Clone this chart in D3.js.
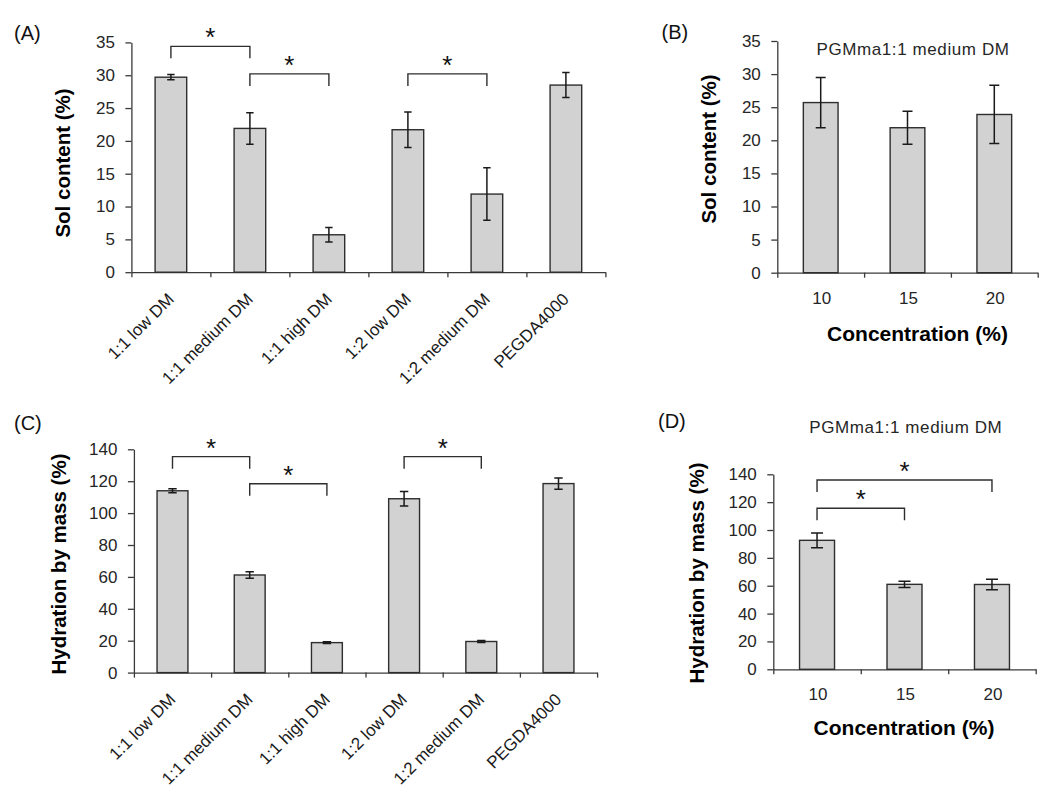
<!DOCTYPE html>
<html><head><meta charset="utf-8">
<script src="https://cdn.jsdelivr.net/npm/d3@7"></script>
<style>body{margin:0;background:#fff} svg{display:block}</style>
</head><body>
<svg id="chart" width="1050" height="807"></svg>
<script>
// ---- data ----
const categoriesAC = ["1:1 low DM","1:1 medium DM","1:1 high DM","1:2 low DM","1:2 medium DM","PEGDA4000"];
const concentrations = ["10","15","20"];
const solContentA = [29.7, 21.9, 5.7, 21.7, 11.9, 28.5];
const solContentAErr = [0.4, 2.4, 1.1, 2.7, 4.0, 1.9];
const solContentB = [25.7, 21.9, 23.9];
const solContentBErr = [3.8, 2.5, 4.4];
const hydrationC = [114, 61.2, 18.8, 109, 19.5, 118.5];
const hydrationCErr = [1.3, 2.0, 0.5, 4.6, 0.7, 3.5];
const hydrationD = [92.6, 61, 60.9];
const hydrationDErr = [5.3, 2.2, 3.7];
const solTicks = [0, 5, 10, 15, 20, 25, 30, 35];
const hydTicks = [0, 20, 40, 60, 80, 100, 120, 140];
// significance brackets: [from index, to index, level]
const sigA = [[0, 1, 34.4], [1, 2, 30.2], [3, 4, 30.2]];
const sigC = [[0, 1, 135.4], [1, 2, 118.4], [3, 4, 135.4]];
const sigD = [[0, 1, 115.6], [0, 2, 135.9]];
const panelLabels = ["(A)", "(B)", "(C)", "(D)"];
const subtitle = "PGMma1:1 medium DM";
const yTitleSol = "Sol content (%)";
const yTitleHyd = "Hydration by mass (%)";
const xTitleConc = "Concentration (%)";

const svg = d3.select("#chart");
const FONT = "'Liberation Sans', Arial, sans-serif";
const AXIS = "#3a3a3a";

function panel(cfg) {
  const g = svg.append("g");
  const y = d3.scaleLinear().domain([0, cfg.yMax]).range([cfg.bottom, cfg.top]);
  const x = d3.scaleBand().domain(cfg.cats).range([cfg.left, cfg.right]).paddingInner(0.6).paddingOuter(0.3);
  const xb = d3.scaleLinear().domain([0, cfg.cats.length]).range([cfg.left, cfg.right]);

  // y axis
  const ya = g.append("g").attr("transform", `translate(${cfg.left},0)`)
    .call(d3.axisLeft(y).tickValues(cfg.ticks).tickSize(6).tickSizeOuter(0).tickPadding(10.5));
  // x axis (ticks at category boundaries)
  const xa = g.append("g").attr("transform", `translate(0,${cfg.bottom})`)
    .call(d3.axisBottom(xb).tickValues(d3.range(cfg.cats.length + 1)).tickSize(5).tickSizeOuter(0).tickFormat(""));
  [ya, xa].forEach(a => {
    a.select(".domain").attr("stroke", AXIS).attr("stroke-width", 1.3);
    a.selectAll(".tick line").attr("stroke", AXIS).attr("stroke-width", 1.3);
  });
  ya.selectAll(".tick text").attr("font-family", FONT).attr("font-size", 17).attr("fill", "#262626");

  // bars
  g.selectAll("rect.bar").data(cfg.values).join("rect")
    .attr("x", (d, i) => x(cfg.cats[i]))
    .attr("width", x.bandwidth())
    .attr("y", d => y(d))
    .attr("height", d => y(0) - y(d))
    .attr("fill", "#d2d2d2").attr("stroke", "#2e2e2e").attr("stroke-width", 1.4);

  // error bars
  const cx = i => x(cfg.cats[i]) + x.bandwidth() / 2;
  const eb = g.append("g").attr("stroke", "#1a1a1a").attr("stroke-width", 1.5).attr("fill", "none");
  cfg.values.forEach((v, i) => {
    const e = cfg.errs[i];
    const c = cx(i), w = cfg.cap;
    eb.append("path").attr("d",
      `M${c},${y(v + e)}V${y(v - e)}M${c - w},${y(v + e)}H${c + w}M${c - w},${y(v - e)}H${c + w}`);
  });

  // significance brackets
  const sg = g.append("g");
  cfg.sig.forEach(([a, b, lvl]) => {
    const x1 = cx(a), x2 = cx(b), yy = y(lvl);
    sg.append("path").attr("d", `M${x1},${yy + 12}V${yy}H${x2}V${yy + 12}`)
      .attr("fill", "none").attr("stroke", "#2e2e2e").attr("stroke-width", 1.4);
    sg.append("text").attr("x", (x1 + x2) / 2).attr("y", yy)
      .attr("text-anchor", "middle").attr("font-family", FONT).attr("font-size", 26).attr("fill", "#111")
      .text("*");
  });

  // category labels
  if (cfg.rotated) {
    cfg.cats.forEach((c, i) => {
      const ax = cx(i) + 4, ay = cfg.bottom + 28;
      g.append("text").attr("transform", `translate(${ax},${ay}) rotate(-45)`)
        .attr("text-anchor", "end").attr("font-family", FONT).attr("font-size", 17).attr("fill", "#1a1a1a")
        .text(c);
    });
  } else {
    cfg.cats.forEach((c, i) => {
      g.append("text").attr("x", cx(i) + 1).attr("y", cfg.bottom + 31)
        .attr("text-anchor", "middle").attr("font-family", FONT).attr("font-size", 17).attr("fill", "#262626")
        .text(c);
    });
  }

  // y title
  g.append("text").attr("transform", `translate(${cfg.yTitleX},${cfg.yTitleY}) rotate(-90)`)
    .attr("text-anchor", "middle").attr("font-family", FONT).attr("font-weight", "bold")
    .attr("font-size", 20.5).attr("fill", "#000").text(cfg.yTitle);

  if (cfg.xTitle) {
    g.append("text").attr("x", cfg.xTitleX).attr("y", cfg.xTitleY)
      .attr("text-anchor", "middle").attr("font-family", FONT).attr("font-weight", "bold")
      .attr("font-size", 21).attr("fill", "#000").text(cfg.xTitle);
  }
  if (cfg.sub) {
    g.append("text").attr("x", cfg.subX).attr("y", cfg.subY)
      .attr("text-anchor", "middle").attr("font-family", FONT).attr("font-size", 17)
      .attr("letter-spacing", 0.6).attr("fill", "#262626").text(cfg.sub);
  }
  g.append("text").attr("x", cfg.labX).attr("y", cfg.labY)
    .attr("font-family", FONT).attr("font-size", 20).attr("fill", "#111").text(cfg.label);
}

panel({cats: categoriesAC, values: solContentA, errs: solContentAErr, ticks: solTicks, yMax: 35,
  left: 131.4, right: 605.4, top: 42.4, bottom: 272.2, cap: 3.7, sig: sigA, rotated: true,
  yTitle: yTitleSol, yTitleX: 70, yTitleY: 163, label: panelLabels[0], labX: 14, labY: 40});

panel({cats: concentrations, values: solContentB, errs: solContentBErr, ticks: solTicks, yMax: 35,
  left: 777.3, right: 1037.7, top: 41, bottom: 272.7, cap: 5, sig: [], rotated: false,
  yTitle: yTitleSol, yTitleX: 716, yTitleY: 149, xTitle: xTitleConc, xTitleX: 917.5, xTitleY: 341,
  sub: subtitle, subX: 913, subY: 55.4, label: panelLabels[1], labX: 661.5, labY: 39});

panel({cats: categoriesAC, values: hydrationC, errs: hydrationCErr, ticks: hydTicks, yMax: 140,
  left: 133.9, right: 597.1, top: 449.3, bottom: 672.6, cap: 4.2, sig: sigC, rotated: true,
  yTitle: yTitleHyd, yTitleX: 65.5, yTitleY: 564, label: panelLabels[2], labX: 14, labY: 430});

panel({cats: concentrations, values: hydrationD, errs: hydrationDErr, ticks: hydTicks, yMax: 140,
  left: 773.3, right: 1035.7, top: 474.3, bottom: 669.3, cap: 6, sig: sigD, rotated: false,
  yTitle: yTitleHyd, yTitleX: 704, yTitleY: 573, xTitle: xTitleConc, xTitleX: 904, xTitleY: 734.5,
  sub: subtitle, subX: 905.8, subY: 432.8, label: panelLabels[3], labX: 658, labY: 428});
</script>
</body></html>
